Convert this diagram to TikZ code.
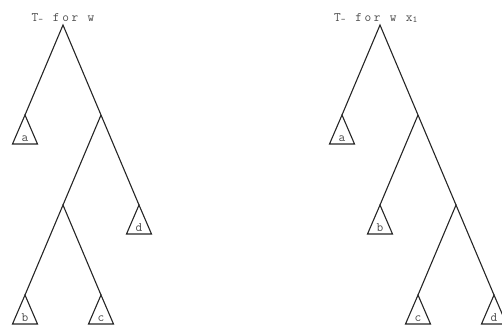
\documentclass[tikz,border=0pt]{standalone}
\usepackage{fontspec}
\setmonofont[LetterSpace=20]{Latin Modern Mono}
\usetikzlibrary{calc}
\tikzset{
  edge/.style={draw=black!85, line width=1.1pt},
  tri/.style={draw=black!85, line width=1.1pt, line join=miter},
  lab/.style={font=\ttfamily\fontsize{13}{13}\selectfont, text=black!70, inner sep=0pt, anchor=base},
  ttl/.style={font=\ttfamily\fontsize{13}{13}\selectfont, text=black!70, inner sep=0pt, anchor=base},
}
\newcommand\leaftri[3]{% name, x, y
  \coordinate (#1) at (#2,#3);
  \draw[tri] (#1) -- ++(-12.5,29) -- ++(25,0) -- cycle;
}
\begin{document}
\begin{tikzpicture}[x=1pt,y=-1pt]
\useasboundingbox (0,0) rectangle (502,325);
% left tree
\node[ttl] (t1) at (63,21) {T\textsubscript{-} for w};
\coordinate (r1) at (63,25);
\coordinate (n1) at (101,115);
\coordinate (n2) at (63,205);
\leaftri{la}{25}{115}
\leaftri{ld}{139}{205}
\leaftri{lb}{25}{295}
\leaftri{lc}{101}{295}
\node[lab] (tla) at (25,141) {a};
\node[lab] (tld) at (139,231) {d};
\node[lab] (tlb) at (25,321) {b};
\node[lab] (tlc) at (101,321) {c};
\draw[edge] (la) -- (r1) -- (n1) -- (ld);
\draw[edge] (n1) -- (n2);
\draw[edge] (lb) -- (n2) -- (lc);
% right tree
\node[ttl] (t2) at (376,21) {T\textsubscript{-} for w x\textsubscript{1}};
\coordinate (r2) at (380,25);
\coordinate (m1) at (418,115);
\coordinate (m2) at (456,205);
\leaftri{ra}{342}{115}
\leaftri{rb}{380}{205}
\leaftri{rc}{418}{295}
\leaftri{rd}{494}{295}
\node[lab] (tra) at (342,141) {a};
\node[lab] (trb) at (380,231) {b};
\node[lab] (trc) at (418,321) {c};
\node[lab] (trd) at (494,321) {d};
\draw[edge] (ra) -- (r2) -- (m1) -- (m2);
\draw[edge] (rb) -- (m1);
\draw[edge] (rc) -- (m2) -- (rd);
\end{tikzpicture}
\end{document}
